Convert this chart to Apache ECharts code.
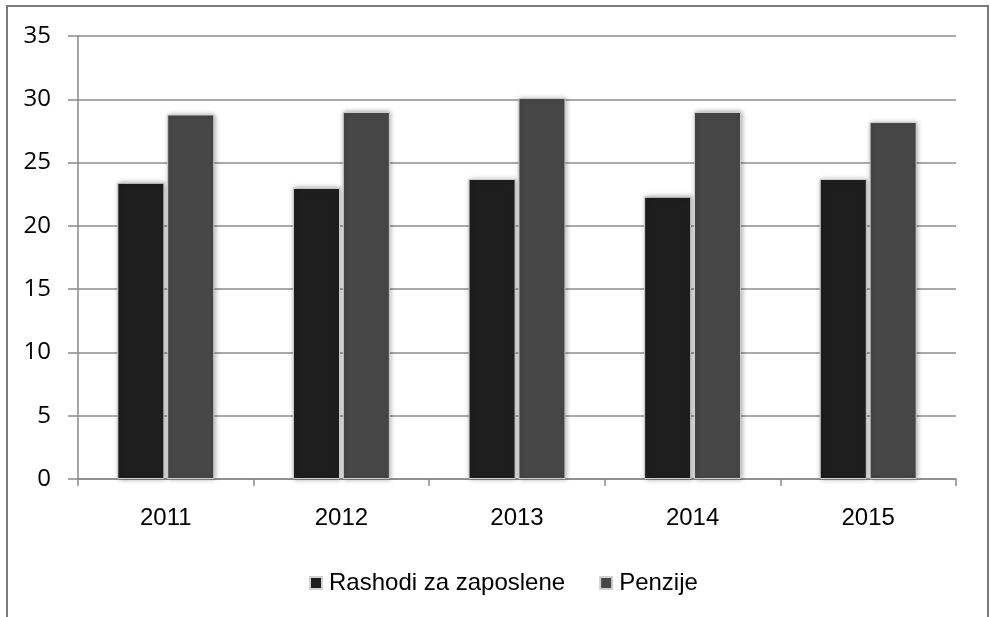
<!DOCTYPE html>
<html>
<head>
<meta charset="utf-8">
<script src="https://cdn.jsdelivr.net/npm/echarts@6/dist/echarts.min.js"></script>
<style>html,body{margin:0;padding:0;background:#fff}#c{width:990px;height:617px}</style>
</head>
<body>
<div id="c"></div>
<script>
var categories = ['2011', '2012', '2013', '2014', '2015'];
var rashodi = [23.4, 23.0, 23.7, 22.3, 23.7];
var penzije = [28.8, 29.0, 30.1, 29.0, 28.2];
var seriesNames = ['Rashodi za zaposlene', 'Penzije'];

var chart = echarts.init(document.getElementById('c'));
var font = 'Liberation Sans, Arial, sans-serif';
function barStyle(color) {
  return {
    color: color,
    borderColor: '#d0d0d0',
    borderWidth: 1,
    shadowColor: 'rgba(0,0,0,0.35)',
    shadowBlur: 5,
    shadowOffsetX: 1,
    shadowOffsetY: 0
  };
}
chart.setOption({
  animation: false,
  backgroundColor: '#fff',
  graphic: [{
    type: 'rect',
    shape: { x: 7, y: 6, width: 981, height: 640 },
    style: { fill: 'none', stroke: '#7a7a7a', lineWidth: 2 },
    silent: true
  }],
  grid: { left: 78, right: 34, top: 36, bottom: 138 },
  legend: {
    left: 304, top: 566,
    itemWidth: 12, itemHeight: 12, itemGap: 34,
    icon: 'rect',
    textStyle: { fontFamily: font, fontSize: 24, color: '#000', padding: [0, 0, 0, 2] },
    data: seriesNames
  },
  xAxis: {
    type: 'category',
    data: categories,
    axisLine: { lineStyle: { color: '#888', width: 1.5 } },
    axisTick: { show: true, length: 7, lineStyle: { color: '#888', width: 1.5 } },
    axisLabel: { fontFamily: font, fontSize: 24, color: '#000', margin: 27 }
  },
  yAxis: {
    type: 'value',
    min: 0, max: 35, interval: 5,
    axisLine: { show: true, lineStyle: { color: '#888', width: 1.5 } },
    axisTick: { show: true, length: 10, lineStyle: { color: '#888', width: 1.5 } },
    splitLine: { lineStyle: { color: '#8c8c8c', width: 1.5 } },
    axisLabel: { fontFamily: 'Open Sans, ' + font, fontSize: 24, color: '#000', margin: 27 }
  },
  series: [{
    name: seriesNames[0], type: 'bar', data: rashodi,
    barWidth: '26.8%', barGap: '6%',
    itemStyle: barStyle('#1e1e1e')
  }, {
    name: seriesNames[1], type: 'bar', data: penzije,
    barWidth: '26.8%',
    itemStyle: barStyle('#474747')
  }]
});
</script>
</body>
</html>
